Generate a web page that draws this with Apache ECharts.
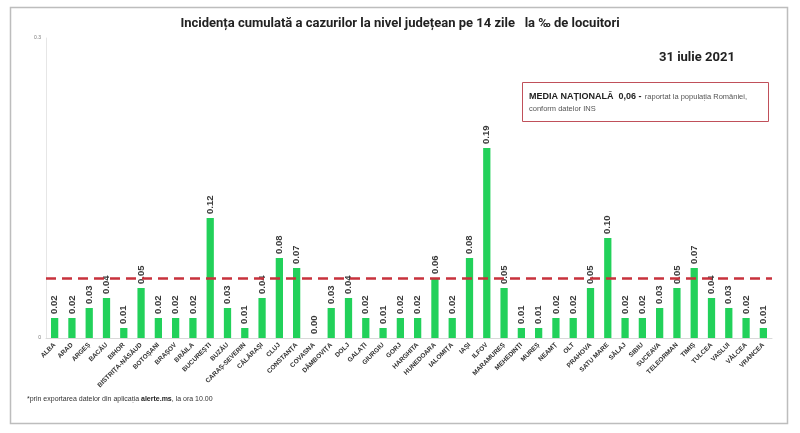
<!DOCTYPE html>
<html>
<head>
<meta charset="utf-8">
<script src="https://cdn.jsdelivr.net/npm/echarts@6/dist/echarts.min.js"></script>
<style>
html,body{margin:0;padding:0;background:#fff;}
#chart{width:800px;height:433px;}
</style>
</head>
<body>
<div id="chart"></div>
<script>
const categories = ["ALBA","ARAD","ARGEȘ","BACĂU","BIHOR","BISTRIȚA-NĂSĂUD","BOTOȘANI","BRAȘOV","BRĂILA","BUCUREȘTI","BUZĂU","CARAȘ-SEVERIN","CĂLĂRAȘI","CLUJ","CONSTANȚA","COVASNA","DÂMBOVIȚA","DOLJ","GALAȚI","GIURGIU","GORJ","HARGHITA","HUNEDOARA","IALOMIȚA","IAȘI","ILFOV","MARAMUREȘ","MEHEDINȚI","MUREȘ","NEAMȚ","OLT","PRAHOVA","SATU MARE","SĂLAJ","SIBIU","SUCEAVA","TELEORMAN","TIMIȘ","TULCEA","VASLUI","VÂLCEA","VRANCEA"];
const incidence = [0.02,0.02,0.03,0.04,0.01,0.05,0.02,0.02,0.02,0.12,0.03,0.01,0.04,0.08,0.07,0.00,0.03,0.04,0.02,0.01,0.02,0.02,0.06,0.02,0.08,0.19,0.05,0.01,0.01,0.02,0.02,0.05,0.10,0.02,0.02,0.03,0.05,0.07,0.04,0.03,0.02,0.01];
const nationalAverage = 0.06;
const yTicks = [0, 0.3];

const chart = echarts.init(document.getElementById('chart'));
chart.setOption({
  animation: false,
  backgroundColor: '#fff',
  title: {
    text: 'Incidența cumulată a cazurilor la nivel județean pe 14 zile   la ‰ de locuitori',
    left: 'center', top: 12,
    textStyle: {fontFamily: 'Liberation Sans Narrow, Roboto, sans-serif', fontSize: 13, fontWeight: 'bold', color: '#222'}
  },
  grid: {left: 46, right: 28, top: 38, bottom: 95},
  xAxis: {
    type: 'category',
    data: categories,
    axisTick: {show: false},
    axisLine: {lineStyle: {color: '#d9d9d9', width: 1}},
    axisLabel: {interval: 0, rotate: 45, fontSize: 6.5, fontWeight: 'bold', color: '#333', fontFamily: 'Liberation Sans Narrow, Liberation Sans, sans-serif', margin: 6}
  },
  yAxis: {
    type: 'value',
    min: yTicks[0], max: yTicks[1], interval: yTicks[1] - yTicks[0],
    axisLine: {show: true, lineStyle: {color: '#e6e6e6'}},
    axisTick: {show: false},
    splitLine: {show: false},
    axisLabel: {fontSize: 5, color: '#777', margin: 5}
  },
  series: [{
    type: 'bar',
    data: incidence,
    barWidth: '42%',
    itemStyle: {color: '#22d15a'},
    label: {
      show: true, position: 'top', rotate: 90, align: 'left', verticalAlign: 'middle', distance: 4,
      formatter: p => p.value.toFixed(2),
      fontSize: 9.5, fontWeight: 'bold', color: '#3a3a3a', fontFamily: 'Liberation Sans, sans-serif'
    },
    markLine: {
      silent: true, symbol: 'none',
      label: {show: false},
      lineStyle: {color: '#c8323c', type: [10, 6], width: 2.5},
      data: [{yAxis: nationalAverage}]
    }
  }],
  graphic: [
    {type: 'rect', shape: {x: 10.5, y: 7.5, width: 777, height: 416}, style: {fill: 'none', stroke: '#bdbdbd', lineWidth: 1.5}, z: -1},
    {type: 'text', left: 659, top: 51, style: {text: '31 iulie 2021', font: 'bold 13px "Liberation Sans Narrow", Roboto, sans-serif', fill: '#222'}},
    {type: 'rect', shape: {x: 522.5, y: 82.5, width: 246, height: 39}, style: {fill: '#fff', stroke: '#c0505a', lineWidth: 1}},
    {type: 'text', left: 529, top: 91, style: {
      rich: {
        b: {font: 'bold 9px "Liberation Sans", sans-serif', fill: '#222'},
        n: {font: '7.5px "Liberation Sans Narrow", "Liberation Sans", sans-serif', fill: '#555'}
      },
      text: '{b|MEDIA NAȚIONALĂ  0,06 -} {n|raportat la populația României,}\n{n|conform datelor INS}',
      lineHeight: 12
    }},
    {type: 'text', left: 27, top: 396, style: {
      rich: {
        n: {font: '7px "Liberation Sans", sans-serif', fill: '#333'},
        b: {font: 'bold 7px "Liberation Sans", sans-serif', fill: '#222'}
      },
      text: '{n|*prin exportarea datelor din aplicația }{b|alerte.ms}{n|, la ora 10.00}'
    }}
  ]
});
</script>
</body>
</html>
